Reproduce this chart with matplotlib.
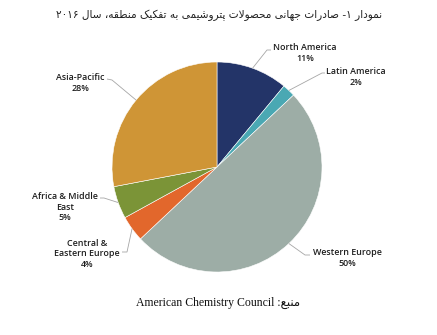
import matplotlib
matplotlib.use('Agg')
import matplotlib.pyplot as plt
import numpy as np

# ---------------- data ----------------
regions = ["North America", "Latin America", "Western Europe",
           "Central &\nEastern Europe", "Africa & Middle\nEast", "Asia-Pacific"]
shares = [11, 2, 50, 4, 5, 28]
colors = ["#233468", "#4aa8b3", "#9dada6", "#e2672c", "#7b9437", "#cf9536"]
title_fa = "نمودار ۱- صادرات جهانی محصولات پتروشیمی به تفکیک منطقه، سال ۲۰۱۶"
source_en = "American Chemistry Council"
source_fa = "منبع:"

# ---------------- minimal Persian shaping ----------------
FORMS = {  # iso, fin, ini, med
    'ا': ('\uFE8D', '\uFE8E', None, None),
    'ب': ('\uFE8F', '\uFE90', '\uFE91', '\uFE92'),
    'پ': ('\uFB56', '\uFB57', '\uFB58', '\uFB59'),
    'ت': ('\uFE95', '\uFE96', '\uFE97', '\uFE98'),
    'ج': ('\uFE9D', '\uFE9E', '\uFE9F', '\uFEA0'),
    'ح': ('\uFEA1', '\uFEA2', '\uFEA3', '\uFEA4'),
    'د': ('\uFEA9', '\uFEAA', None, None),
    'ر': ('\uFEAD', '\uFEAE', None, None),
    'س': ('\uFEB1', '\uFEB2', '\uFEB3', '\uFEB4'),
    'ش': ('\uFEB5', '\uFEB6', '\uFEB7', '\uFEB8'),
    'ص': ('\uFEB9', '\uFEBA', '\uFEBB', '\uFEBC'),
    'ط': ('\uFEC1', '\uFEC2', '\uFEC3', '\uFEC4'),
    'ع': ('\uFEC9', '\uFECA', '\uFECB', '\uFECC'),
    'ف': ('\uFED1', '\uFED2', '\uFED3', '\uFED4'),
    'ق': ('\uFED5', '\uFED6', '\uFED7', '\uFED8'),
    'ک': ('\uFB8E', '\uFB8F', '\uFB90', '\uFB91'),
    'ل': ('\uFEDD', '\uFEDE', '\uFEDF', '\uFEE0'),
    'م': ('\uFEE1', '\uFEE2', '\uFEE3', '\uFEE4'),
    'ن': ('\uFEE5', '\uFEE6', '\uFEE7', '\uFEE8'),
    'ه': ('\uFEE9', '\uFEEA', '\uFEEB', '\uFEEC'),
    'و': ('\uFEED', '\uFEEE', None, None),
    'ی': ('\uFBFC', '\uFBFD', '\uFBFE', '\uFBFF'),
}


def joins_left(c):
    return c in FORMS and FORMS[c][2] is not None


def shape_word(w):
    out = []
    i = 0
    n = len(w)
    while i < n:
        c = w[i]
        prev = w[i - 1] if i > 0 else ''
        conn_prev = joins_left(prev) and c in FORMS
        if c == 'ل' and i + 1 < n and w[i + 1] == 'ا':
            out.append('\uFEFC' if conn_prev else '\uFEFB')
            i += 2
            continue
        if c not in FORMS:
            out.append(c)
            i += 1
            continue
        nxt = w[i + 1] if i + 1 < n else ''
        conn_next = joins_left(c) and nxt in FORMS
        iso, fin, ini, med = FORMS[c]
        if conn_prev and conn_next:
            out.append(med)
        elif conn_prev:
            out.append(fin)
        elif conn_next:
            out.append(ini)
        else:
            out.append(iso)
        i += 1
    return out


def visual(text):
    digits = set('۰۱۲۳۴۵۶۷۸۹0123456789')
    toks = text.split(' ')
    vis = []
    for t in reversed(toks):
        if all(ch in digits for ch in t):
            vis.append(t)
        else:
            vis.append(''.join(reversed(shape_word(t))))
    return ' '.join(vis)


# ---------------- figure ----------------
W, H = 437, 335
fig = plt.figure(figsize=(W / 100, H / 100), dpi=100)
ax = fig.add_axes([0, 0, 1, 1])

cx, cy, R = 217, H - 167, 105
wedges, _ = ax.pie(shares, colors=colors, startangle=90, counterclock=False,
                   center=(cx, cy), radius=R,
                   wedgeprops=dict(edgecolor='white', linewidth=0.4))
ax.set_xlim(0, W)
ax.set_ylim(0, H)
ax.set_aspect('equal')
ax.axis('off')

# label layout (image pixel coords): text centre, elbow, end
layout = [
    ((305, 53), (267, 50), (271, 50)),
    ((356, 77), (322, 73), (325, 73)),
    ((347, 258), (305, 255), (310, 255)),
    ((87, 254), (127, 252), (122, 252)),
    ((65, 207), (104, 198), (100, 198)),
    ((80, 83), (112, 80), (107, 79)),
]

for w, name, val, (tpos, elbow, end) in zip(wedges, regions, shares, layout):
    ang = np.deg2rad((w.theta1 + w.theta2) / 2)
    ex, ey = cx + R * np.cos(ang), cy + R * np.sin(ang)
    xs = [ex, elbow[0], end[0]]
    ys = [ey, H - elbow[1], H - end[1]]
    ax.plot(xs, ys, color='#a6a6a6', lw=0.6, solid_capstyle='butt')
    ax.text(tpos[0], H - tpos[1], f"{name}\n{val}%", ha='center', va='center',
            multialignment='center', fontsize=6.4, family='Open Sans',
            fontweight='semibold', color='#1e1e1e', linespacing=1.15)

fig.text(219 / W, 1 - 15 / H, visual(title_fa), ha='center', va='center',
         fontsize=7.6, family='DejaVu Sans', color='#222222')

fig.text(218 / W, 1 - 303 / H, source_en + ' ' + visual(source_fa),
         ha='center', va='center', fontsize=8.5,
         family=['Liberation Serif', 'DejaVu Sans'], color='#111111')

fig.savefig('out.png', dpi=100)
